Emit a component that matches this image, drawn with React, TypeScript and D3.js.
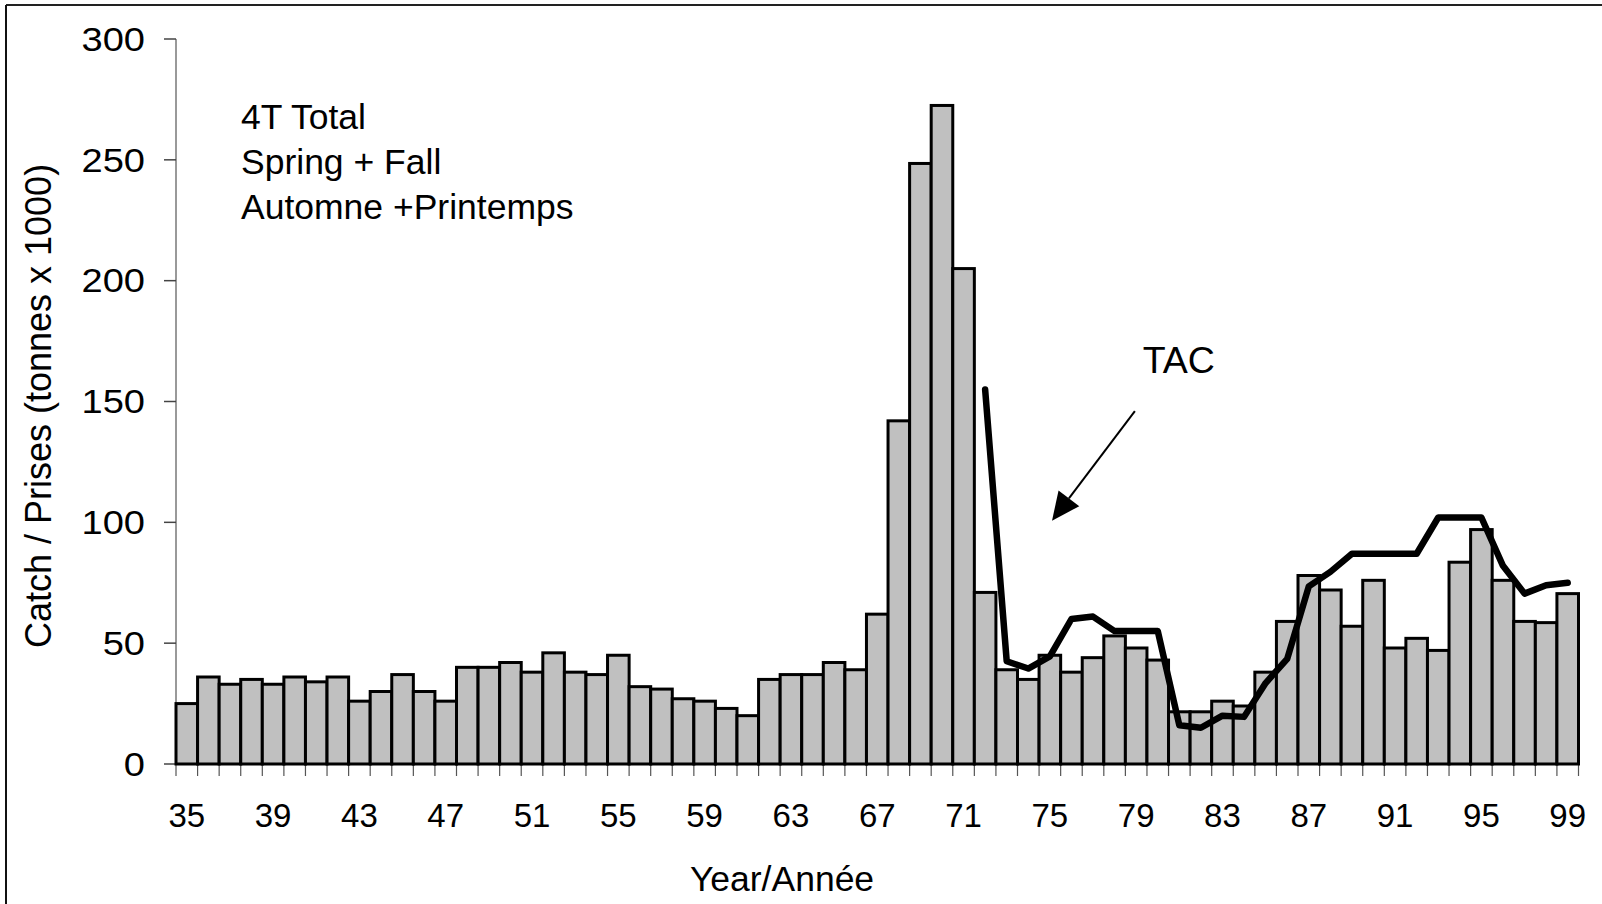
import React from "react";
import * as d3 from "d3";

// ---- data ----
const years: number[] = [
  35, 36, 37, 38, 39, 40, 41, 42, 43, 44, 45, 46, 47, 48, 49, 50, 51, 52, 53, 54,
  55, 56, 57, 58, 59, 60, 61, 62, 63, 64, 65, 66, 67, 68, 69, 70, 71, 72, 73, 74,
  75, 76, 77, 78, 79, 80, 81, 82, 83, 84, 85, 86, 87, 88, 89, 90, 91, 92, 93, 94,
  95, 96, 97, 98, 99,
];
const catchValues: number[] = [
  25, 36, 33, 35, 33, 36, 34, 36, 26, 30, 37, 30, 26, 40, 40, 42, 38, 46, 38, 37,
  45, 32, 31, 27, 26, 23, 20, 35, 37, 37, 42, 39, 62, 142, 248.5, 272.5, 205, 71, 39, 35,
  45, 38, 44, 53, 48, 43, 21.6, 21.6, 26, 24, 38, 59, 78, 72, 57, 76, 48, 52, 47, 83.5,
  97, 76, 59, 58.5, 70.5,
];
const tacYears: number[] = [
  72, 73, 74, 75, 76, 77, 78, 79, 80, 81, 82, 83, 84, 85, 86, 87, 88, 89, 90, 91,
  92, 93, 94, 95, 96, 97, 98, 99,
];
const tacValues: number[] = [
  155, 42.5, 39.5, 44.5, 60, 61, 55, 55, 55, 16, 15, 20, 19.5, 33.5, 43.5, 73.5, 79.5, 87, 87, 87,
  87, 102, 102, 102, 82, 70.5, 74, 75,
];
const yTicks: number[] = [0, 50, 100, 150, 200, 250, 300];
const xTickYears: number[] = [35, 39, 43, 47, 51, 55, 59, 63, 67, 71, 75, 79, 83, 87, 91, 95, 99];
const noteLines: string[] = ["4T Total", "Spring + Fall", "Automne +Printemps"];
// arrow annotation in data units (year, value)
const arrowFrom = { year: 78.94, value: 146 };
const arrowTo = { year: 75.1, value: 100.7 };
const tacLabel = { year: 79.3, value: 162 };

const W = 1602;
const H = 904;
const FONT = "'Liberation Sans', Arial, Helvetica, sans-serif";

export default function App() {
  const left = 176;
  const right = 1578.5;
  const top = 39;
  const bottom = 764;

  const x = d3
    .scaleBand<string>()
    .domain(years.map(String))
    .range([left, right])
    .padding(0);
  const bw = x.bandwidth();
  const y = d3.scaleLinear().domain([0, 300]).range([bottom, top]);
  // continuous year → x (bar centers)
  const xc = d3
    .scaleLinear()
    .domain([years[0], years[years.length - 1]])
    .range([left + bw / 2, right - bw / 2]);

  const line = d3
    .line<number>()
    .x((_, i) => xc(tacYears[i]))
    .y((d) => y(d));

  const ax1 = xc(arrowFrom.year);
  const ay1 = y(arrowFrom.value);
  const ax2 = xc(arrowTo.year);
  const ay2 = y(arrowTo.value);
  const ang = Math.atan2(ay2 - ay1, ax2 - ax1);
  const headLen = 28;
  const headHalf = 13;
  const bx = ax2 - headLen * Math.cos(ang);
  const by = ay2 - headLen * Math.sin(ang);
  const px = -Math.sin(ang);
  const py = Math.cos(ang);
  const head = `${ax2},${ay2} ${bx + px * headHalf},${by + py * headHalf} ${bx - px * headHalf},${by - py * headHalf}`;

  return (
    <svg
      width={W}
      height={H}
      style={{ position: "absolute", left: 0, top: 0, display: "block", background: "#fff" }}
      fontFamily={FONT}
    >
      {/* frame */}
      <line x1={6} y1={5} x2={W} y2={5} stroke="#222" strokeWidth={2} />
      <line x1={6} y1={5} x2={6} y2={H} stroke="#111" strokeWidth={2} />

      {/* y axis */}
      <line x1={left} y1={top} x2={left} y2={bottom} stroke="#777" strokeWidth={1.5} />
      {yTicks.map((t) => (
        <g key={t}>
          <line x1={left - 12} x2={left} y1={y(t)} y2={y(t)} stroke="#444" strokeWidth={1.5} />
          <text
            transform={`translate(145,${y(t)}) scale(1.12,1)`}
            textAnchor="end"
            dominantBaseline="central"
            fontSize={34}
            fill="#000"
          >
            {t}
          </text>
        </g>
      ))}

      {/* x axis ticks */}
      {years.concat([100]).map((yr, i) => {
        const xx = left + i * bw;
        return <line key={yr} x1={xx} x2={xx} y1={bottom} y2={bottom + 12} stroke="#555" strokeWidth={1.2} />;
      })}
      <line x1={left} x2={right} y1={bottom} y2={bottom} stroke="#777" strokeWidth={1.5} />

      {/* bars */}
      {years.map((yr, i) => (
        <rect
          key={yr}
          x={x(String(yr))}
          y={y(catchValues[i])}
          width={bw}
          height={bottom - y(catchValues[i])}
          fill="#c0c0c0"
          stroke="#000"
          strokeWidth={3}
        />
      ))}

      {/* TAC line */}
      <path
        d={line(tacValues) || ""}
        fill="none"
        stroke="#000"
        strokeWidth={6.5}
        strokeLinejoin="round"
        strokeLinecap="round"
      />

      {/* x tick labels */}
      {xTickYears.map((yr) => (
        <text key={yr} x={xc(yr)} y={827} textAnchor="middle" fontSize={33} fill="#000">
          {yr}
        </text>
      ))}

      {/* axis titles */}
      <text x={782} y={891} textAnchor="middle" fontSize={35.5} fill="#000">
        Year/Année
      </text>
      <text
        transform={`translate(51,406) rotate(-90)`}
        textAnchor="middle"
        fontSize={36}
        fill="#000"
      >
        Catch / Prises (tonnes x 1000)
      </text>

      {/* notes */}
      {noteLines.map((s, i) => (
        <text key={s} x={241} y={129 + i * 45} fontSize={35.5} fill="#000">
          {s}
        </text>
      ))}

      {/* TAC annotation */}
      <text x={xc(tacLabel.year)} y={y(tacLabel.value)} fontSize={37.5} fill="#000">
        TAC
      </text>
      <line x1={ax1} y1={ay1} x2={bx} y2={by} stroke="#000" strokeWidth={2} />
      <polygon points={head} fill="#000" />
    </svg>
  );
}
